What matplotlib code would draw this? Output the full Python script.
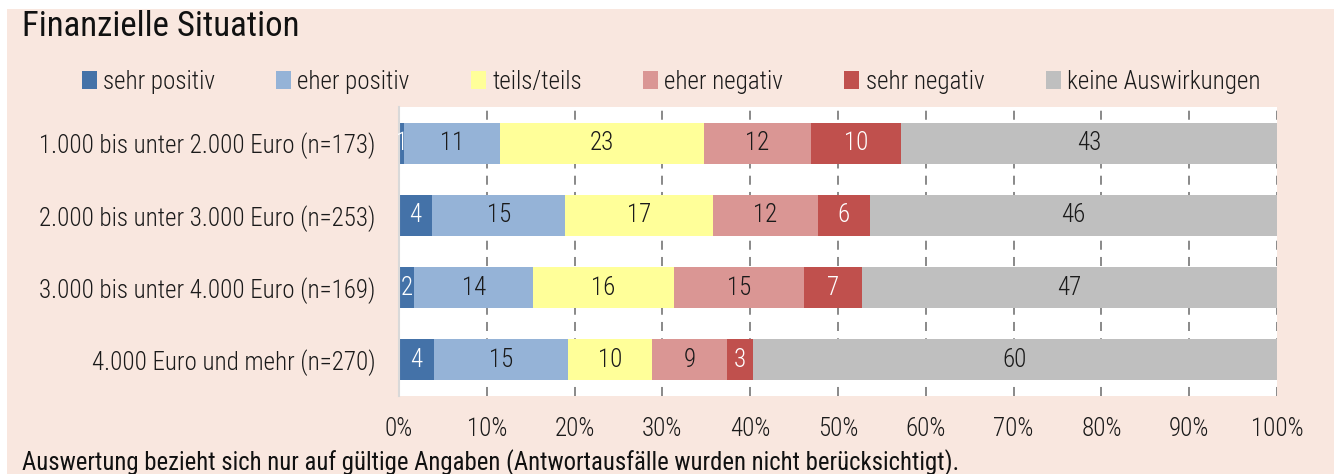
import matplotlib
matplotlib.use("Agg")
import matplotlib.pyplot as plt
from matplotlib import font_manager
from matplotlib.patches import Rectangle

# pick a narrow font if one is installed
fonts = font_manager.fontManager.ttflist
names = {f.name for f in fonts}
if "Roboto Condensed" in names:
    FAMILY, STRETCH = "Roboto Condensed", "normal"
elif any(f.name == "DejaVu Sans" and f.stretch == "condensed" for f in fonts):
    FAMILY, STRETCH = "DejaVu Sans", "condensed"
else:
    FAMILY, STRETCH = "Roboto", "normal"
plt.rcParams["font.family"] = [FAMILY, "DejaVu Sans"]
plt.rcParams["font.stretch"] = STRETCH
plt.rcParams["font.weight"] = "light"

#################### data
categories = ["1.000 bis unter 2.000 Euro (n=173)",
              "2.000 bis unter 3.000 Euro (n=253)",
              "3.000 bis unter 4.000 Euro (n=169)",
              "4.000 Euro und mehr (n=270)"]
series = ["sehr positiv", "eher positiv", "teils/teils",
          "eher negativ", "sehr negativ", "keine Auswirkungen"]
sehr_positiv = [0.6, 3.8, 1.7, 4.0]
eher_positiv = [10.9, 15.1, 13.6, 15.2]
teils_teils = [23.2, 16.9, 16.0, 9.6]
eher_negativ = [12.2, 11.9, 14.8, 8.6]
sehr_negativ = [10.3, 5.9, 6.6, 2.9]
keine = [42.8, 46.4, 47.3, 59.7]
values = [sehr_positiv, eher_positiv, teils_teils, eher_negativ, sehr_negativ, keine]
colors = ["#4472A8", "#95B3D7", "#FFFF99", "#DA9694", "#C0504D", "#BFBFBF"]
label_colors = ["white", "#1a1a1a", "#1a1a1a", "#1a1a1a", "white", "#1a1a1a"]

title = "Finanzielle Situation"
note = "Auswertung bezieht sich nur auf gültige Angaben (Antwortausfälle wurden nicht berücksichtigt)."

#################### figure
W, H = 1334, 474
FS = 18
fig = plt.figure(figsize=(W / 100, H / 100), dpi=100, facecolor="white")
fig.patches.append(Rectangle((7 / W, 0), 1, 1 - 9 / H, transform=fig.transFigure,
                             facecolor="#F9E7DF", edgecolor="none", zorder=-10))

ax = fig.add_axes([399 / W, 1 - 396 / H, 878 / W, 289 / H])
ax.set_facecolor("white")

y = list(range(len(categories)))
left = [0] * len(categories)
for vals, col, lcol, name in zip(values, colors, label_colors, series):
    bars = ax.barh(y, vals, left=left, height=0.57, color=col, label=name, zorder=2)
    ax.bar_label(bars, labels=[f"{v:.0f}" for v in vals], label_type="center",
                 color=lcol, fontsize=FS, zorder=3)
    left = [a + b for a, b in zip(left, vals)]

ax.set_xlim(0, 100)
ax.set_ylim(3.5, -0.5)
ax.set_yticks(y)
ax.set_yticklabels(categories, fontsize=FS, color="#1a1a1a")
ax.set_xticks(range(0, 101, 10))
ax.set_xticklabels([f"{t}%" for t in range(0, 101, 10)], fontsize=FS, color="#1a1a1a")
ax.tick_params(axis="y", length=0, pad=17)
ax.tick_params(axis="x", length=0, pad=15)
ax.grid(axis="x", color="#808080", linestyle=(0, (5, 4)), linewidth=1.3, zorder=1)
for s in ["top", "right", "bottom"]:
    ax.spines[s].set_visible(False)
ax.spines["left"].set_color("#D9D9D9")
ax.spines["left"].set_linewidth(1.5)

fig.text(22 / W, 1 - 27 / H, title, fontsize=25, fontweight="normal",
         va="center", ha="left", color="#111111")
fig.text(22 / W, 1 - 463 / H, note, fontsize=17.8, fontweight="normal",
         va="center", ha="left", color="#111111")

fig.legend(loc="center", bbox_to_anchor=(671 / W, 1 - 82 / H), ncol=6, frameon=False,
           fontsize=FS, handlelength=0.6, handleheight=0.75, handletextpad=0.25,
           columnspacing=2.45, labelcolor="#1a1a1a")

fig.savefig("out.png", dpi=100, facecolor=fig.get_facecolor())
